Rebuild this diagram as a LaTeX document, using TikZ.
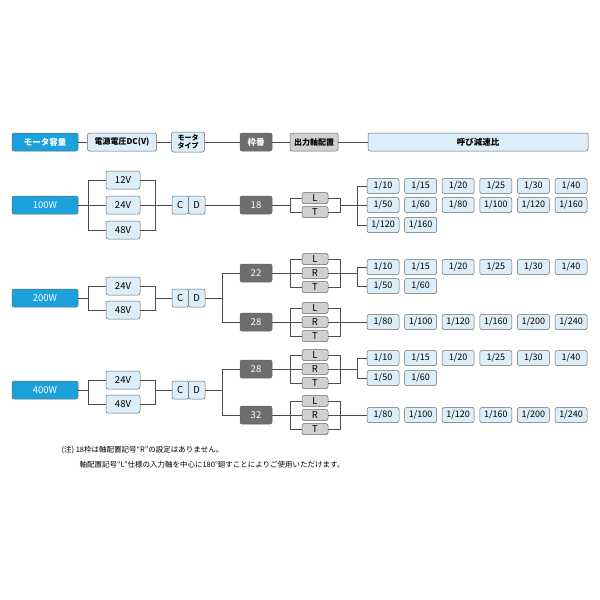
\documentclass[tikz,border=0pt]{standalone}
\usepackage{fontspec}
\setmainfont{Noto Sans CJK JP}
\usetikzlibrary{positioning}
\definecolor{capBlue}{HTML}{1BA1DB}
\definecolor{paleBlue}{HTML}{DCEEF9}
\definecolor{darkFrame}{HTML}{6E6E6E}
\definecolor{lightGrey}{HTML}{D0D0D0}
\tikzset{
  box/.style={draw=black!60, rounded corners=2pt, inner sep=0pt, font=\fontsize{9.5}{10}\selectfont, line width=0.5pt},
  capBox/.style={box, fill=capBlue, text=white, minimum width=66pt, minimum height=18pt},
  voltBox/.style={box, fill=paleBlue, minimum width=34pt, minimum height=18pt},
  frameBox/.style={box, fill=darkFrame, text=white, minimum width=32pt, minimum height=18pt},
  shaftBox/.style={box, fill=lightGrey, minimum width=26pt, minimum height=11pt},
  ratioBox/.style={box, fill=paleBlue, minimum width=32pt, minimum height=15pt, font=\fontsize{9}{10}\selectfont},
  headBox/.style={font=\fontsize{8.5}{9}\bfseries\selectfont},
  wire/.style={draw=black!70, line width=0.5pt}
}
% one row of ratio boxes
\newcommand\ratioRow[3]{%
  \foreach \r [count=\i] in {#3} {
    \node[ratioBox] (#1-\i) at (383+37.6*\i-37.6,#2) {\r};
  }%
}
\begin{document}
\begin{tikzpicture}[x=1pt,y=-1pt]
    \useasboundingbox (0,0) rectangle (600,600);

    % header
    \node[capBox, headBox] (hCap) at (45,142) {モータ容量};
    \node[voltBox, headBox, minimum width=69pt, font=\fontsize{8}{9}\bfseries\selectfont] (hVolt) at (122,142) {電源電圧DC(V)};
    \node[voltBox, minimum width=33pt, minimum height=20pt, align=center, font=\fontsize{7}{7.5}\bfseries\selectfont] (hType) at (188,142) {モータ\\タイプ};
    \node[frameBox, headBox] (hFrame) at (256,142) {枠番};
    \node[shaftBox, headBox, minimum width=48pt, minimum height=18pt, font=\fontsize{8}{9}\bfseries\selectfont] (hShaft) at (314,142) {出力軸配置};
    \node[voltBox, headBox, minimum width=220pt] (hRatio) at (478,142) {呼び減速比};
    \draw[wire] (hCap) -- (hVolt) -- (hType) -- (hFrame) -- (hShaft) -- (hRatio);

    % 100W
    \node[capBox] (w100) at (45,205) {100W};
    \node[voltBox] (w100-v12) at (123,180) {12V};
    \node[voltBox] (w100-v24) at (123,205) {24V};
    \node[voltBox] (w100-v48) at (123,230) {48V};
    \node[voltBox, minimum width=16.5pt] (w100-c) at (180.25,205) {C};
    \node[voltBox, minimum width=16.5pt] (w100-d) at (196.75,205) {D};
    \node[frameBox] (f18) at (256,205) {18};
    \node[shaftBox] (f18-L) at (315,198) {L};
    \node[shaftBox] (f18-T) at (315,212) {T};
    \ratioRow{f18-a}{186}{1/10,1/15,1/20,1/25,1/30,1/40}
    \ratioRow{f18-b}{205}{1/50,1/60,1/80,1/100,1/120,1/160}
    \ratioRow{f18-c}{225}{1/120,1/160}

    \draw[wire] (w100) -- (88,205);
    \draw[wire] (w100-v12.west) -| (88,230) -- (w100-v48.west);
    \draw[wire] (88,205) -- (w100-v24.west);
    \draw[wire] (w100-v12.east) -| (155,230) -- (w100-v48.east);
    \draw[wire] (w100-v24.east) -- (w100-c.west);
    \draw[wire] (w100-d) -- (f18);
    \draw[wire] (f18) -- (290,205);
    \draw[wire] (f18-L.west) -| (290,212) -- (f18-T.west);
    \draw[wire] (f18-L.east) -| (340,212) -- (f18-T.east);
    \draw[wire] (340,205) -- (f18-b-1.west);
    \draw[wire] (f18-a-1.west) -| (357,225) -- (f18-c-1.west);

    % 200W
    \node[capBox] (w200) at (45,298) {200W};
    \node[voltBox] (w200-v24) at (123,286) {24V};
    \node[voltBox] (w200-v48) at (123,310) {48V};
    \node[voltBox, minimum width=16.5pt] (w200-c) at (180.25,298) {C};
    \node[voltBox, minimum width=16.5pt] (w200-d) at (196.75,298) {D};
    \node[frameBox] (f22) at (256,273) {22};
    \node[frameBox] (f28a) at (256,322) {28};
    \foreach \s [count=\k] in {L,R,T} {
      \node[shaftBox] (f22-\s) at (315,259+14*\k-14) {\s};
      \node[shaftBox] (f28a-\s) at (315,308+14*\k-14) {\s};
    }
    \ratioRow{f22-a}{267}{1/10,1/15,1/20,1/25,1/30,1/40}
    \ratioRow{f22-b}{286}{1/50,1/60}
    \ratioRow{f28a-a}{322}{1/80,1/100,1/120,1/160,1/200,1/240}

    \draw[wire] (w200) -- (88,298);
    \draw[wire] (w200-v24.west) -| (88,310) -- (w200-v48.west);
    \draw[wire] (w200-v24.east) -| (155,310) -- (w200-v48.east);
    \draw[wire] (155,298) -- (w200-c.west);
    \draw[wire] (w200-d) -- (222,298);
    \draw[wire] (f22.west) -| (222,322) -- (f28a.west);

    % 400W
    \node[capBox] (w400) at (45,390) {400W};
    \node[voltBox] (w400-v24) at (123,380) {24V};
    \node[voltBox] (w400-v48) at (123,404) {48V};
    \node[voltBox, minimum width=16.5pt] (w400-c) at (180.25,390) {C};
    \node[voltBox, minimum width=16.5pt] (w400-d) at (196.75,390) {D};
    \node[frameBox] (f28b) at (256,369) {28};
    \node[frameBox] (f32) at (256,415) {32};
    \foreach \s [count=\k] in {L,R,T} {
      \node[shaftBox] (f28b-\s) at (315,355+14*\k-14) {\s};
      \node[shaftBox] (f32-\s) at (315,401+14*\k-14) {\s};
    }
    \ratioRow{f28b-a}{358}{1/10,1/15,1/20,1/25,1/30,1/40}
    \ratioRow{f28b-b}{378}{1/50,1/60}
    \ratioRow{f32-a}{415}{1/80,1/100,1/120,1/160,1/200,1/240}

    \draw[wire] (w400) -- (88,390);
    \draw[wire] (w400-v24.west) -| (88,404) -- (w400-v48.west);
    \draw[wire] (w400-v24.east) -| (155,404) -- (w400-v48.east);
    \draw[wire] (155,390) -- (w400-c.west);
    \draw[wire] (w400-d) -- (222,390);
    \draw[wire] (f28b.west) -| (222,415) -- (f32.west);

    % frame to shaft to ratio
    \foreach \f in {f22,f28a,f28b,f32} {
      \draw[wire] (\f.east) -- (\f-R.west);
      \draw[wire] (\f-L.west) -| ([xshift=-12pt]\f-T.west) -- (\f-T.west);
      \draw[wire] (\f-L.east) -| ([xshift=12pt]\f-T.east) -- (\f-T.east);
    }
    \draw[wire] (f22-R.east) -- (357,273);
    \draw[wire] (f22-a-1.west) -| (357,286) -- (f22-b-1.west);
    \draw[wire] (f28a-R.east) -- (f28a-a-1.west);
    \draw[wire] (f28b-R.east) -- (357,369);
    \draw[wire] (f28b-a-1.west) -| (357,378) -- (f28b-b-1.west);
    \draw[wire] (f32-R.east) -- (f32-a-1.west);

    % notes
    \node[anchor=west, font=\fontsize{7.5}{8}\selectfont] (note1) at (58,450) {(注) 18枠は軸配置記号“R”の設定はありません。};
    \node[anchor=west, font=\fontsize{7.5}{8}\selectfont] (note2) at (76,465) {軸配置記号“L”仕様の入力軸を中心に180°廻すことによりご使用いただけます。};
\end{tikzpicture}
\end{document}
